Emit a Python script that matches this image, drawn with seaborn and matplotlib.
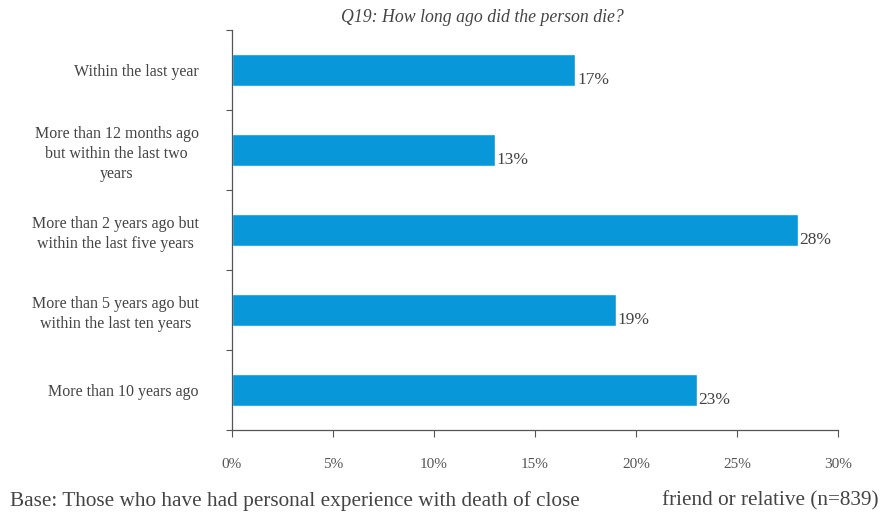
import matplotlib
matplotlib.use("Agg")
import matplotlib.pyplot as plt
import seaborn as sns
import pandas as pd
import numpy as np

categories = [
    "Within the last year",
    "More than 12 months ago\nbut within the last two\nyears",
    "More than 2 years ago but\nwithin the last five years",
    "More than 5 years ago but\nwithin the last ten years",
    "More than 10 years ago",
]
values = [17, 13, 28, 19, 23]
x_ticks = [0, 5, 10, 15, 20, 25, 30]
x_tick_labels = ["0%", "5%", "10%", "15%", "20%", "25%", "30%"]
title = "Q19: How long ago did the person die?"
footer_left = "Base: Those who have had personal experience with death of close"
footer_right = "friend or relative (n=839)"

sns.set_theme(style="white")
plt.rcParams["font.family"] = ["Liberation Serif", "DejaVu Serif"]

text_color = "#444444"
bar_color = "#0897d8"

df = pd.DataFrame({"category": categories, "value": values})

fig = plt.figure(figsize=(8.82, 5.18), dpi=100)
ax = fig.add_axes([232 / 882, 1 - 430 / 518, (838 - 232) / 882, 400 / 518])

sns.barplot(data=df, x="value", y="category", orient="h", color=bar_color,
            width=0.4, saturation=1, ax=ax)

for i, v in enumerate(values):
    ax.text(v + 0.1, i + 0.12, f"{v}%", va="center", ha="left",
            fontsize=12.5, color=text_color)

ax.set_xlim(0, 30)
ax.set_ylim(len(categories) - 0.5, -0.5)
ax.set_xticks(x_ticks)
ax.set_xticklabels(x_tick_labels, fontsize=11, color="#555555")
ax.tick_params(axis="x", which="major", direction="out", length=5, width=0.8,
               color="#555555", pad=15, bottom=True)

ax.set_yticks(range(len(categories)))
ax.set_yticklabels(categories, fontsize=11.5, color=text_color,
                   multialignment="center", linespacing=1.35)
ax.tick_params(axis="y", which="major", length=0, pad=24)
ax.set_yticks(np.arange(-0.5, len(categories)), minor=True)
ax.tick_params(axis="y", which="minor", direction="out", length=4, width=0.8,
               color="#555555", left=True)

ax.set_xlabel("")
ax.set_ylabel("")
for side in ["top", "right"]:
    ax.spines[side].set_visible(False)
for side in ["left", "bottom"]:
    ax.spines[side].set_color("#555555")
    ax.spines[side].set_linewidth(0.9)

fig.text(482 / 882, 1 - 17 / 518, title, ha="center", va="center",
         fontsize=12.8, style="italic", color=text_color)
fig.text(10 / 882, 1 - 501 / 518, footer_left, ha="left", va="center",
         fontsize=15.3, color=text_color)
fig.text(879 / 882, 1 - 501 / 518, footer_right, ha="right", va="center",
         fontsize=15.3, color=text_color)

fig.savefig("out.png", dpi=100)
